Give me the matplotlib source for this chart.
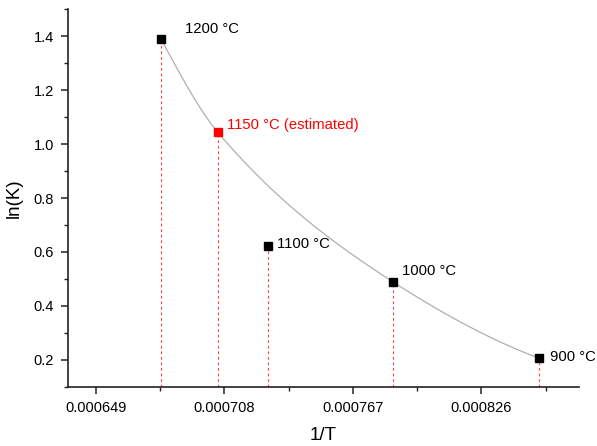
import numpy as np
import matplotlib
matplotlib.use('Agg')
import matplotlib.pyplot as plt
from matplotlib.ticker import MultipleLocator, FixedLocator

plt.rcParams['font.family'] = ['Liberation Sans', 'DejaVu Sans']

# data
labels = ['1200 °C', '1150 °C (estimated)', '1100 °C', '1000 °C', '900 °C']
inv_t = [0.000679, 0.000705, 0.0007283, 0.0007855, 0.0008524]
ln_k = [1.388, 1.044, 0.622, 0.489, 0.207]
colors = ['black', 'red', 'black', 'black', 'black']
# points that the smooth curve goes through (1100 is off the curve)
on_curve = [0, 1, 3, 4]
label_offsets = [(24, 10), (9, 7), (9, 2), (9, 11), (11, 1)]
xticks = [0.000649, 0.000708, 0.000767, 0.000826]


def pchip(x, y, xn):
    # monotone cubic (Fritsch-Carlson)
    h = np.diff(x)
    d = np.diff(y) / h
    m = np.zeros_like(y)
    for k in range(1, len(x) - 1):
        if d[k - 1] * d[k] > 0:
            w1 = 2 * h[k] + h[k - 1]
            w2 = h[k] + 2 * h[k - 1]
            m[k] = (w1 + w2) / (w1 / d[k - 1] + w2 / d[k])
    m[0] = ((2 * h[0] + h[1]) * d[0] - h[0] * d[1]) / (h[0] + h[1])
    m[-1] = ((2 * h[-1] + h[-2]) * d[-1] - h[-1] * d[-2]) / (h[-1] + h[-2])
    i = np.clip(np.searchsorted(x, xn) - 1, 0, len(x) - 2)
    t = (xn - x[i]) / h[i]
    h00 = 2 * t**3 - 3 * t**2 + 1
    h10 = t**3 - 2 * t**2 + t
    h01 = -2 * t**3 + 3 * t**2
    h11 = t**3 - t**2
    return h00 * y[i] + h10 * h[i] * m[i] + h01 * y[i + 1] + h11 * h[i] * m[i + 1]


fig = plt.figure(figsize=(5.97, 4.46), dpi=100)
ax = fig.add_axes([0.1139, 0.1323, 0.8559, 0.8475])

ymin = 0.1

xc = np.array([inv_t[i] for i in on_curve])
yc = np.array([ln_k[i] for i in on_curve])
xx = np.linspace(xc.min(), xc.max(), 300)
ax.plot(xx, pchip(xc, yc, xx), color='#b0b0b0', lw=0.9, zorder=2)

# drop lines
for x, y in zip(inv_t, ln_k):
    ax.plot([x, x], [ymin, y], color='#f04848', lw=0.8, ls=(0, (2.5, 2.5)), zorder=1)

# markers and labels
for x, y, c, lab, off in zip(inv_t, ln_k, colors, labels, label_offsets):
    ax.plot(x, y, marker='s', ms=6, color=c, ls='none', zorder=3)
    ax.annotate(lab, (x, y), xytext=off, textcoords='offset pixels',
                ha='left', va='center', fontsize=10.7, color=c)

ax.set_xlim(0.0006363, 0.0008708)
ax.set_ylim(ymin, 1.5)
ax.xaxis.set_major_locator(FixedLocator(xticks))
ax.set_xticklabels(['%.6f' % v for v in xticks])
ax.xaxis.set_minor_locator(FixedLocator([v + 0.0000295 for v in xticks]))
ax.yaxis.set_major_locator(FixedLocator([0.2, 0.4, 0.6, 0.8, 1.0, 1.2, 1.4]))
ax.yaxis.set_minor_locator(MultipleLocator(0.1))

for s in ['top', 'right']:
    ax.spines[s].set_visible(False)
for s in ['left', 'bottom']:
    ax.spines[s].set_linewidth(1.2)
    ax.spines[s].set_color('#222222')

ax.tick_params(which='major', direction='out', length=5, width=1.1, labelsize=10.5,
               color='#222222', pad=5)
ax.tick_params(which='minor', direction='out', length=3, width=1.0, color='#222222')

ax.set_xlabel('1/T', fontsize=13.5, labelpad=9)
ax.set_ylabel('ln(K)', fontsize=13.5, labelpad=8)

fig.savefig('out.png', dpi=100)
